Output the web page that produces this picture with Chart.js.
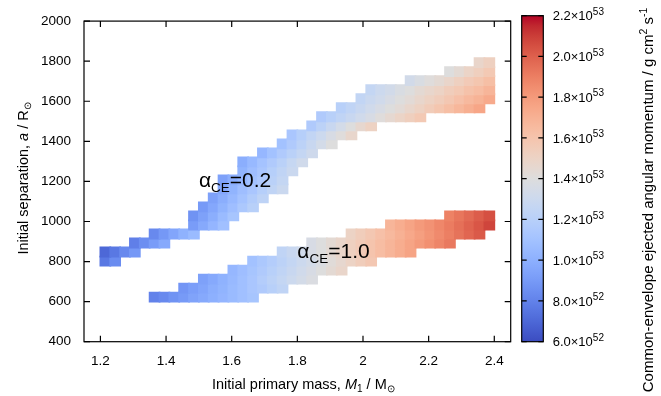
<!DOCTYPE html>
<html>
<head>
<meta charset="utf-8">
<script src="https://cdn.jsdelivr.net/npm/chart.js@4.4.1/dist/chart.umd.min.js"></script>
<style>
  html, body { margin: 0; padding: 0; background: #fff; overflow: hidden; }
  #wrap { position: relative; width: 661px; height: 396px; }
  #heat { position: absolute; left: 0; top: 0; }
  #bar { position: absolute; left: 500px; top: 0; }
</style>
</head>
<body>
<div id="wrap">
  <canvas id="heat" width="661" height="396"></canvas>
  <canvas id="bar" width="161" height="396"></canvas>
</div>
<script>
// grid cell centres along M1 (Msun), cells are 0.03 wide
const massCentres = [
  1.215, 1.245, 1.275, 1.305, 1.335, 1.365, 1.395, 1.425, 1.455, 1.485,
  1.515, 1.545, 1.575, 1.605, 1.635, 1.665, 1.695, 1.725, 1.755, 1.785,
  1.815, 1.845, 1.875, 1.905, 1.935, 1.965, 1.995, 2.025, 2.055, 2.085,
  2.115, 2.145, 2.175, 2.205, 2.235, 2.265, 2.295, 2.325, 2.355, 2.385
];
// separation row edges (Rsun)
const sepEdges = [
  600, 645, 690, 735, 780, 825, 870, 915, 960, 1005, 1050, 1095, 1140, 1185,
  1230, 1275, 1320, 1365, 1410, 1455, 1500, 1545, 1590, 1635, 1680, 1725, 1770, 1815
];

const massTicks = [1.2, 1.4, 1.6, 1.8, 2, 2.2, 2.4];
const sepTicks = [400, 600, 800, 1000, 1200, 1400, 1600, 1800, 2000];
const cbTicks = [6, 8, 10, 12, 14, 16, 18, 20, 22]; // units of 1e52
const cbMin = 6, cbMax = 22;

// alpha_CE = 0.2 : row index into sepEdges, first mass column, J_ej in 1e52 g cm^2 s^-1
const ce02Row = [4, 5, 6, 7, 8, 9, 10, 11, 12, 13, 14, 15, 16, 17, 18, 19, 20, 21, 22, 23, 24, 25, 26];
const ce02First = [0, 0, 3, 5, 9, 9, 10, 11, 12, 12, 14, 14, 16, 18, 19, 21, 22, 24, 26, 27, 31, 35, 38];
const ce02J = [
  [7.6, 8.4],
  [7.0, 7.6, 8.3, 8.9],
  [7.9, 8.5, 9.1, 9.7],
  [8.3, 8.9, 9.5, 10.1, 10.6],
  [9.1, 9.7, 10.3, 10.9],
  [8.7, 9.3, 9.9, 10.6, 11.2],
  [9.0, 9.6, 10.2, 10.8, 11.4, 12.0],
  [9.3, 9.9, 10.5, 11.1, 11.7, 12.3],
  [9.6, 10.2, 10.8, 11.3, 11.9, 12.4, 12.9],
  [9.3, 9.9, 10.4, 11.0, 11.5, 12.1, 12.6],
  [10.2, 10.8, 11.3, 11.9, 12.4, 12.9],
  [9.9, 10.5, 11.1, 11.6, 12.1, 12.7, 13.2],
  [10.4, 11.0, 11.6, 12.1, 12.6, 13.1],
  [11.0, 11.6, 12.2, 12.8, 13.4, 14.0],
  [11.3, 11.9, 12.5, 13.0, 13.6, 14.1, 14.7],
  [11.6, 12.2, 12.8, 13.4, 14.0, 14.6, 15.1],
  [11.6, 12.0, 12.4, 12.8, 13.2, 13.6, 14.1, 14.5, 14.9, 15.3, 15.7],
  [12.0, 12.4, 12.8, 13.2, 13.6, 14.0, 14.3, 14.7, 15.1, 15.5, 15.9, 16.3, 16.7, 17.1, 17.5],
  [12.5, 12.9, 13.2, 13.6, 14.0, 14.3, 14.7, 15.1, 15.4, 15.8, 16.2, 16.6, 16.9, 17.3],
  [12.6, 13.0, 13.3, 13.7, 14.0, 14.4, 14.7, 15.0, 15.4, 15.7, 16.1, 16.4, 16.8],
  [13.3, 13.7, 14.1, 14.4, 14.8, 15.2, 15.6, 15.9, 16.3],
  [14.0, 14.4, 14.9, 15.3, 15.7],
  [14.8, 15.2]
];

// alpha_CE = 1.0
const ce10Row = [0, 1, 2, 3, 4, 5, 6, 7, 8, 9];
const ce10First = [5, 8, 10, 13, 15, 18, 21, 25, 29, 35];
const ce10J = [
  [8.0, 8.3, 8.7, 9.0, 9.4, 9.7, 10.0, 10.3, 10.6, 10.9, 11.2],
  [8.8, 9.2, 9.5, 9.9, 10.2, 10.6, 10.9, 11.3, 11.6, 12.0, 12.4],
  [9.3, 9.7, 10.1, 10.5, 10.9, 11.3, 11.8, 12.2, 12.6, 13.0, 13.4, 13.8],
  [10.4, 10.8, 11.2, 11.6, 12.0, 12.4, 12.8, 13.2, 13.6, 14.0, 14.4, 14.8],
  [11.0, 11.4, 11.8, 12.2, 12.6, 13.0, 13.4, 13.8, 14.2, 14.6, 15.0, 15.4, 15.8],
  [12.4, 12.8, 13.2, 13.6, 14.0, 14.4, 14.8, 15.2, 15.6, 16.0, 16.4, 16.8, 17.2, 17.6],
  [13.6, 14.0, 14.4, 14.8, 15.2, 15.6, 16.0, 16.4, 16.8, 17.2, 17.6, 18.0, 18.4, 18.8, 19.2],
  [15.0, 15.4, 15.8, 16.2, 16.6, 17.0, 17.4, 17.8, 18.2, 18.6, 19.0, 19.4, 19.8, 20.2],
  [16.8, 17.2, 17.6, 18.0, 18.3, 18.7, 19.1, 19.5, 19.9, 20.3, 20.8],
  [18.9, 19.3, 19.7, 20.1, 20.5]
];

// in-plot labels
const bandLabelValue = ['0.2', '1.0'];
const bandLabelMass = [1.5, 1.8];
const bandLabelSep = [1170, 820];

const FONT = "'Liberation Sans', Arial, Helvetica, sans-serif";

// coolwarm palette
const palette = [
  [59,76,192],[68,90,204],[77,104,215],[87,117,225],[98,130,234],[108,142,241],
  [119,154,247],[130,165,251],[141,176,254],[152,185,255],[163,194,255],[174,201,253],
  [184,208,249],[194,213,244],[204,217,238],[213,219,230],[221,221,221],[229,216,209],
  [236,211,197],[241,204,185],[245,196,173],[247,187,160],[247,177,148],[247,166,135],
  [244,154,123],[241,141,111],[236,127,99],[229,112,88],[222,96,77],[213,80,66],
  [203,62,56],[192,40,47],[180,4,38]
];

function coolwarm(t) {
  t = Math.min(1, Math.max(0, t));
  const p = t * (palette.length - 1);
  const i = Math.min(Math.floor(p), palette.length - 2);
  const f = p - i;
  const c = palette[i].map((v, k) => Math.round(v + (palette[i + 1][k] - v) * f));
  return 'rgb(' + c[0] + ',' + c[1] + ',' + c[2] + ')';
}

function bandCells(rows, first, vals) {
  const cells = [];
  rows.forEach((row, i) => {
    vals[i].forEach((j, n) => {
      cells.push({ x: massCentres[first[i] + n], y: [sepEdges[row], sepEdges[row + 1]], j: j });
    });
  });
  return cells;
}

function cellColour(c) {
  return c.raw ? coolwarm((c.raw.j - cbMin) / (cbMax - cbMin)) : '#ddd';
}

function heatDataset(label, data) {
  return {
    label: label,
    data: data,
    backgroundColor: cellColour,
    borderColor: cellColour,
    borderWidth: 0,
    barPercentage: 1,
    categoryPercentage: 1,
    grouped: false,
    inflateAmount: 0.9
  };
}

function fontOf(p) {
  return (p.it ? 'italic ' : '') + p.s + 'px ' + FONT;
}

// text with sub/superscripts, drawn piece by piece
function drawRich(ctx, parts, x, y, align) {
  let w = 0;
  parts.forEach(p => { ctx.font = fontOf(p); w += ctx.measureText(p.t).width; });
  let cx = align === 'center' ? x - w / 2 : x;
  ctx.textAlign = 'left';
  ctx.textBaseline = 'alphabetic';
  parts.forEach(p => {
    ctx.font = fontOf(p);
    ctx.fillText(p.t, cx, y + (p.dy || 0));
    cx += ctx.measureText(p.t).width;
  });
}

const heatDecor = {
  id: 'heatDecor',
  afterDatasetsDraw(chart) {
    const { ctx, scales: { x, y } } = chart;
    ctx.save();
    ctx.fillStyle = '#000';
    bandLabelValue.forEach((val, i) => {
      drawRich(ctx, [
        { t: 'α', s: 21 },
        { t: 'CE', s: 13.5, dy: 5 },
        { t: '=' + val, s: 21 }
      ], x.getPixelForValue(bandLabelMass[i]), y.getPixelForValue(bandLabelSep[i]), 'left');
    });
    ctx.restore();
  },
  afterDraw(chart) {
    const { ctx, chartArea: a, scales: { x, y } } = chart;
    ctx.save();
    ctx.strokeStyle = '#000';
    ctx.lineWidth = 1.2;
    ctx.strokeRect(a.left, a.top, a.right - a.left, a.bottom - a.top);
    ctx.beginPath();
    x.ticks.forEach(t => {
      const px = x.getPixelForValue(t.value);
      ctx.moveTo(px, a.bottom); ctx.lineTo(px, a.bottom - 6);
      ctx.moveTo(px, a.top); ctx.lineTo(px, a.top + 6);
    });
    y.ticks.forEach(t => {
      const py = y.getPixelForValue(t.value);
      ctx.moveTo(a.left, py); ctx.lineTo(a.left + 6, py);
      ctx.moveTo(a.right, py); ctx.lineTo(a.right - 6, py);
    });
    ctx.stroke();

    ctx.fillStyle = '#000';
    drawRich(ctx, [
      { t: 'Initial primary mass, ', s: 14.5 },
      { t: 'M', s: 14.5, it: true },
      { t: '1', s: 10, dy: 3 },
      { t: ' / M', s: 14.5 },
      { t: '⊙', s: 10, dy: 3 }
    ], (a.left + a.right) / 2 + 6, 389, 'center');

    ctx.translate(27.5, (a.top + a.bottom) / 2 - 3);
    ctx.rotate(-Math.PI / 2);
    drawRich(ctx, [
      { t: 'Initial separation, ', s: 14.5 },
      { t: 'a', s: 14.5, it: true },
      { t: ' / R', s: 14.5 },
      { t: '⊙', s: 10, dy: 3 }
    ], 0, 0, 'center');
    ctx.restore();
  }
};

new Chart(document.getElementById('heat'), {
  type: 'bar',
  data: {
    datasets: [
      heatDataset('alpha 0.2', bandCells(ce02Row, ce02First, ce02J)),
      heatDataset('alpha 1.0', bandCells(ce10Row, ce10First, ce10J))
    ]
  },
  options: {
    responsive: false,
    animation: false,
    events: [],
    layout: { padding: { left: 0, top: 15.7, right: 150.3, bottom: 0 } },
    plugins: {
      legend: { display: false },
      tooltip: { enabled: false },
      colors: { enabled: false }
    },
    scales: {
      x: {
        type: 'linear',
        bounds: 'data',
        min: 1.15,
        max: 2.45,
        offset: false,
        grid: { display: false, drawTicks: false, offset: false },
        border: { display: false },
        ticks: {
          padding: 11,
          maxRotation: 0,
          color: '#000',
          font: { family: FONT, size: 13.5 },
          callback: v => String(v)
        },
        afterBuildTicks: s => { s.ticks = massTicks.map(v => ({ value: v })); },
        afterFit: s => { s.height = 54.3; }
      },
      y: {
        type: 'linear',
        bounds: 'data',
        min: 400,
        max: 2000,
        grid: { display: false, drawTicks: false },
        border: { display: false },
        ticks: {
          padding: 13,
          color: '#000',
          font: { family: FONT, size: 13.5 },
          callback: v => String(v)
        },
        afterBuildTicks: s => { s.ticks = sepTicks.map(v => ({ value: v })); },
        afterFit: s => { s.width = 84; }
      }
    }
  },
  plugins: [heatDecor]
});

// colour bar
const barDecor = {
  id: 'barDecor',
  afterDraw(chart) {
    const { ctx, chartArea: a, scales: { y } } = chart;
    ctx.save();
    ctx.strokeStyle = '#000';
    ctx.lineWidth = 1.2;
    ctx.strokeRect(a.left, a.top, a.right - a.left, a.bottom - a.top);
    ctx.beginPath();
    cbTicks.forEach(v => {
      const py = y.getPixelForValue(v);
      ctx.moveTo(a.left, py); ctx.lineTo(a.left + 5, py);
      ctx.moveTo(a.right, py); ctx.lineTo(a.right - 5, py);
    });
    ctx.stroke();

    ctx.fillStyle = '#000';
    cbTicks.forEach(v => {
      const exp = v < 10 ? 52 : 53;
      const mant = v < 10 ? v : v / 10;
      drawRich(ctx, [
        { t: mant.toFixed(1) + '×10', s: 13 },
        { t: String(exp), s: 10, dy: -5.5 }
      ], a.right + 9.4, y.getPixelForValue(v) + 4.7, 'left');
    });

    ctx.translate(152.7, 200);
    ctx.rotate(-Math.PI / 2);
    drawRich(ctx, [
      { t: 'Common-envelope ejected angular momentum / g cm', s: 15 },
      { t: '2', s: 10.5, dy: -6 },
      { t: ' s', s: 15 },
      { t: '-1', s: 10.5, dy: -6 }
    ], 0, 0, 'center');
    ctx.restore();
  }
};

new Chart(document.getElementById('bar'), {
  type: 'bar',
  data: {
    labels: [''],
    datasets: [{
      data: [[cbMin, cbMax]],
      borderWidth: 0,
      barPercentage: 1,
      categoryPercentage: 1,
      backgroundColor: c => {
        const a = c.chart.chartArea;
        if (!a) return null;
        const g = c.chart.ctx.createLinearGradient(0, a.bottom, 0, a.top);
        palette.forEach((rgb, i) => g.addColorStop(i / (palette.length - 1), 'rgb(' + rgb.join(',') + ')'));
        return g;
      }
    }]
  },
  options: {
    responsive: false,
    animation: false,
    events: [],
    layout: { padding: { left: 21.7, top: 15.7, right: 0, bottom: 54.3 } },
    plugins: {
      legend: { display: false },
      tooltip: { enabled: false },
      colors: { enabled: false }
    },
    scales: {
      x: { display: false },
      y: {
        position: 'right',
        bounds: 'data',
        min: cbMin,
        max: cbMax,
        grid: { display: false, drawTicks: false },
        border: { display: false },
        ticks: { display: false, stepSize: 2 },
        afterFit: s => { s.width = 161 - 43.3; }
      }
    }
  },
  plugins: [barDecor]
});
</script>
</body>
</html>
